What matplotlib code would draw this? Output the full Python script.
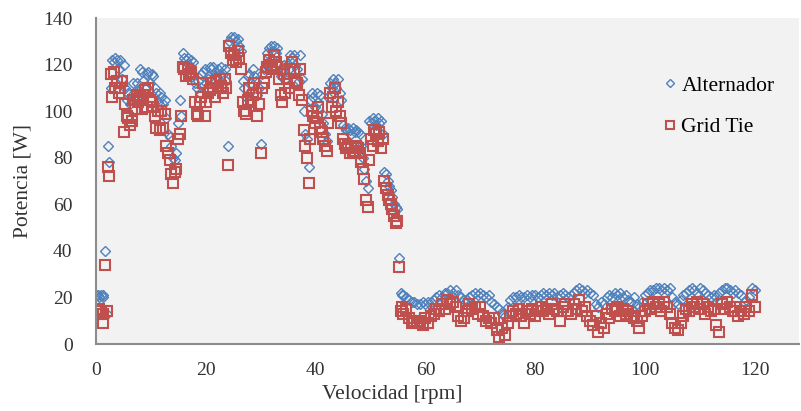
import matplotlib.pyplot as plt

# Datos: velocidad [rpm] y potencia [W]
velocidad = [
    0.0, 0.3, 0.6, 0.9, 1.2, 1.3, 1.6, 1.9, 2.2, 2.4, 2.7, 2.9, 3.2, 3.5, 3.8, 4.1, 4.4, 4.7,
    5.0, 5.3, 5.6, 5.9, 6.2, 6.5, 6.8, 7.1, 7.4, 7.7, 8.0, 8.3, 8.6, 8.9, 9.2, 9.5, 9.8,
    10.1, 10.4, 10.7, 11.0, 11.3, 11.6, 11.9, 12.2, 12.5, 12.8, 13.1, 13.4, 13.7, 14.0,
    14.3, 14.6, 14.9, 15.2, 15.5, 15.8, 16.1, 16.4, 16.7, 17.0, 17.3, 17.6, 18.0, 18.3,
    18.6, 18.9, 19.2, 19.5, 19.8, 20.1, 20.4, 20.7, 21.0, 21.3, 21.6, 21.9, 22.2, 22.5,
    22.8, 23.1, 23.4, 23.7, 24.0, 24.3, 24.6, 24.9, 25.2, 25.5, 25.8, 26.1, 26.4, 26.7,
    27.0, 27.3, 27.6, 27.9, 28.2, 28.5, 28.8, 29.1, 29.4, 29.7, 30.0, 30.3, 30.6, 30.9,
    31.2, 31.5, 31.8, 32.1, 32.4, 32.7, 33.0, 33.3, 33.6, 33.9, 34.2, 34.5, 34.8, 35.1,
    35.4, 35.7, 36.0, 36.3, 36.6, 36.9, 37.2, 37.5, 37.8, 38.1, 38.4, 38.7, 39.0, 39.3,
    39.6, 39.9, 40.2, 40.5, 40.8, 41.1, 41.4, 41.7, 42.0, 42.3, 42.6, 42.9, 43.2, 43.5,
    43.8, 44.1, 44.4, 44.7, 45.0, 45.3, 45.6, 45.9, 46.2, 46.5, 46.8, 47.1, 47.4, 47.7,
    48.0, 48.3, 48.6, 48.9, 49.2, 49.5, 49.8, 50.1, 50.4, 50.7, 51.0, 51.3, 51.6, 51.9,
    52.2, 52.5, 52.8, 53.1, 53.4, 53.7, 54.0, 54.3, 54.6, 54.9, 55.2, 55.5, 55.8,
    56.0, 56.5, 57.0, 57.5, 58.0, 58.5, 59.0, 59.5, 60.0, 60.5, 61.0, 61.5, 62.0, 62.5,
    63.0, 63.5, 64.0, 64.5, 65.0, 65.5, 66.0, 66.5, 67.0, 67.5, 68.0, 68.5, 69.0, 69.5,
    70.0, 70.5, 71.0, 71.5, 72.0, 72.5, 73.0, 73.5, 74.0, 74.5, 75.0, 75.5, 76.0, 76.5,
    77.0, 77.5, 78.0, 78.5, 79.0, 79.5, 80.0, 80.5, 81.0, 81.5, 82.0, 82.5, 83.0, 83.5,
    84.0, 84.5, 85.0, 85.5, 86.0, 86.5, 87.0, 87.5, 88.0, 88.5, 89.0, 89.5, 90.0, 90.5,
    91.0, 91.5, 92.0, 92.5, 93.0, 93.5, 94.0, 94.5, 95.0, 95.5, 96.0, 96.5, 97.0, 97.5,
    98.0, 98.5, 99.0, 99.5, 100.0, 100.5, 101.0, 101.5, 102.0, 102.5, 103.0, 103.5,
    104.0, 104.5, 105.0, 105.5, 106.0, 106.5, 107.0, 107.5, 108.0, 108.5, 109.0, 109.5,
    110.0, 110.5, 111.0, 111.5, 112.0, 112.5, 113.0, 113.5, 114.0, 114.5, 115.0, 115.5,
    116.0, 116.5, 117.0, 117.5, 118.0, 118.5, 119.0, 119.5, 120.0,
]

alternador = [
    21, 21, 20, 21, 20, 21, 40, 13, 85, 78, 110, 122, 121, 123, 122, 118, 122, 114,
    120, 110, 105, 108, 103, 107, 112, 106, 112, 109, 118, 117, 113, 110, 116, 117, 112,
    116, 115, 110, 108, 104, 108, 106, 103, 105, 97, 90, 89, 85, 80,
    79, 82, 95, 105, 98, 125, 123, 122, 123, 120, 122, 121, 112, 110,
    113, 108, 116, 117, 118, 112, 114, 119, 118, 119, 117, 115, 118, 116,
    119, 116, 118, 113, 85, 130, 132, 131, 132, 130, 131, 128, 126, 113,
    110, 106, 115, 116, 112, 118, 115, 113, 107, 110, 86, 116, 118, 120,
    125, 127, 128, 126, 128, 125, 127, 120, 115, 117, 120, 114, 120, 118,
    124, 123, 124, 120, 118, 113, 124, 114, 100, 90, 88, 76, 105, 108,
    106, 102, 108, 104, 107, 99, 95, 90, 87, 106, 112, 110, 114, 112,
    110, 114, 108, 105, 94, 93, 92, 93, 92, 90, 93, 91, 92, 91,
    90, 85, 80, 75, 70, 67, 96, 95, 97, 96, 94, 97, 95, 96,
    90, 74, 73, 70, 68, 66, 63, 60, 59, 58, 37, 22, 21,
    21, 20, 19, 18, 18, 17, 17, 18, 17, 18, 18, 19, 20, 21,
    20, 22, 22, 23, 22, 23, 21, 20, 19, 19, 20, 21, 22, 21,
    22, 21, 20, 21, 18, 17, 16, 15, 13, 12, 16, 19, 20, 20,
    21, 20, 20, 21, 20, 21, 21, 20, 21, 22, 21, 22, 21, 22,
    20, 21, 22, 21, 20, 21, 22, 23, 24, 23, 22, 23, 22, 21,
    17, 16, 18, 17, 20, 21, 20, 22, 21, 22, 20, 21, 19, 18,
    20, 17, 16, 18, 21, 22, 23, 23, 24, 24, 23, 24,
    23, 24, 20, 18, 17, 19, 21, 22, 23, 24, 23, 22,
    24, 23, 22, 21, 20, 21, 20, 22, 23, 24, 24, 23,
    22, 23, 22, 21, 18, 19, 20, 24, 23,
]

grid_tie = [
    14, 13, 15, 14, 13, 9, 34, 14, 76, 72, 116, 106, 117, 110, 113, 108, 110, 113,
    91, 103, 98, 97, 94, 96, 105, 101, 107, 104, 106, 101, 107, 109, 102, 110, 105,
    104, 102, 98, 93, 100, 92, 100, 93, 99, 85, 82, 79, 73, 69,
    74, 75, 88, 90, 98, 119, 118, 115, 118, 116, 117, 114, 104, 99,
    98, 104, 106, 112, 98, 104, 108, 109, 112, 110, 106, 113, 110, 114,
    111, 108, 114, 110, 77, 128, 125, 122, 124, 121, 126, 123, 118, 104,
    100, 99, 105, 110, 104, 107, 112, 108, 98, 103, 82, 110, 112, 117,
    119, 122, 120, 118, 124, 121, 119, 114, 107, 104, 116, 108, 114, 110,
    118, 121, 117, 113, 112, 107, 118, 105, 92, 85, 80, 69, 88, 100,
    98, 95, 97, 102, 93, 91, 88, 85, 83, 95, 108, 102, 106, 110,
    100, 104, 98, 95, 88, 86, 84, 85, 82, 84, 82, 83, 85, 84,
    82, 78, 75, 71, 62, 59, 79, 88, 85, 92, 90, 87, 91, 84,
    88, 70, 67, 64, 62, 60, 58, 55, 52, 53, 33, 14, 16,
    13, 15, 11, 9, 10, 9, 10, 8, 11, 9, 12, 13, 15, 14,
    17, 15, 19, 17, 18, 16, 12, 10, 11, 14, 17, 15, 16, 13,
    16, 12, 10, 11, 9, 11, 6, 3, 7, 4, 9, 12, 14, 13,
    15, 12, 9, 14, 13, 15, 12, 14, 16, 14, 15, 13, 17, 15,
    14, 10, 16, 17, 14, 13, 17, 15, 19, 14, 16, 12, 10, 8,
    12, 5, 9, 7, 13, 11, 15, 14, 16, 12, 15, 13, 14, 12,
    11, 10, 7, 12, 14, 17, 15, 18, 16, 17, 14, 18,
    16, 13, 9, 7, 6, 9, 12, 15, 14, 17, 16, 18,
    15, 17, 13, 16, 14, 15, 8, 5, 17, 15, 18, 16,
    14, 16, 12, 14, 13, 16, 14, 21, 16,
]

x_ticks = [0, 20, 40, 60, 80, 100, 120]
y_ticks = [0, 20, 40, 60, 80, 100, 120, 140]

plt.rcParams['font.family'] = ['Liberation Serif', 'DejaVu Serif']

fig = plt.figure(figsize=(8.01, 4.11), dpi=100)
ax = fig.add_axes([0.12, 0.163, 0.877, 0.793])
ax.set_facecolor('#f2f2f2')

ax.plot(velocidad, alternador, linestyle='none', marker='D', markersize=5,
        markerfacecolor='none', markeredgecolor='#4f81bd', markeredgewidth=1.0,
        label='Alternador')
ax.plot(velocidad, grid_tie, linestyle='none', marker='s', markersize=6.5,
        markerfacecolor='none', markeredgecolor='#c0504d', markeredgewidth=1.5,
        label='Grid Tie')

ax.set_xlim(0, 128)
ax.set_ylim(0, 140)
ax.set_xticks(x_ticks)
ax.set_yticks(y_ticks)
ax.tick_params(length=0, labelsize=14, colors='#333333')
ax.tick_params(axis='y', pad=17)
ax.tick_params(axis='x', pad=13)

for side in ['top', 'right']:
    ax.spines[side].set_visible(False)
for side in ['left', 'bottom']:
    ax.spines[side].set_color('#8c8c8c')
    ax.spines[side].set_linewidth(1.5)

ax.set_xlabel('Velocidad [rpm]', fontsize=15.5, color='#333333')
ax.set_ylabel('Potencia [W]', fontsize=15.5, color='#333333')
ax.xaxis.set_label_coords(0.422, -0.126)
ax.yaxis.set_label_coords(-0.09, 0.5)

ax.legend(loc='upper left', bbox_to_anchor=(0.778, 0.883), frameon=False,
          fontsize=15.5, handletextpad=0.2, labelspacing=1.0, markerscale=0.85,
          handlelength=0.7)

plt.savefig('out.png', dpi=100)
